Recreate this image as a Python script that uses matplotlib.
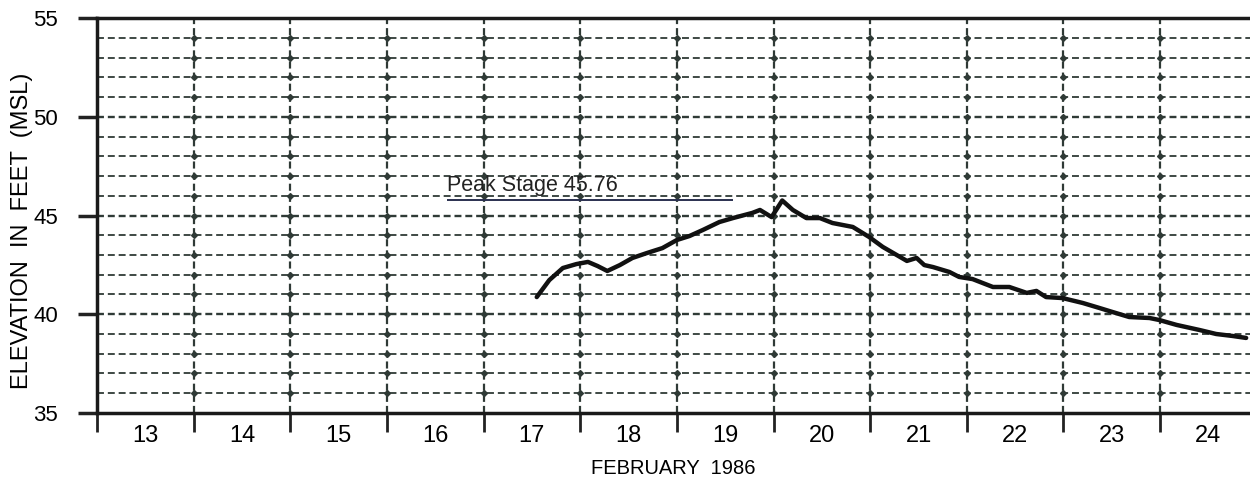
import numpy as np
import matplotlib.pyplot as plt

# stage hydrograph (day of Feb 1986, elevation ft MSL)
days = [17.55, 17.68, 17.82, 17.96, 18.08, 18.18, 18.28, 18.41, 18.54, 18.69,
        18.85, 19.00, 19.13, 19.27, 19.44, 19.58, 19.78, 19.86, 19.98, 20.09,
        20.20, 20.34, 20.48, 20.61, 20.82, 20.99, 21.13, 21.38, 21.48, 21.56,
        21.65, 21.82, 21.92, 22.06, 22.27, 22.44, 22.62, 22.72, 22.82, 22.99,
        23.20, 23.37, 23.51, 23.68, 23.89, 23.99, 24.17, 24.41, 24.58, 24.75,
        24.89]
elev = [40.87, 41.73, 42.34, 42.54, 42.65, 42.44, 42.19, 42.49, 42.85, 43.10,
        43.35, 43.76, 43.96, 44.27, 44.67, 44.87, 45.13, 45.28, 44.92, 45.76,
        45.28, 44.87, 44.87, 44.62, 44.42, 43.91, 43.41, 42.70, 42.85, 42.49,
        42.39, 42.14, 41.89, 41.78, 41.38, 41.38, 41.08, 41.18, 40.87, 40.82,
        40.57, 40.32, 40.11, 39.86, 39.81, 39.71, 39.46, 39.20, 39.00, 38.90,
        38.80]

day_labels = ["13", "14", "15", "16", "17", "18", "19", "20", "21", "22", "23", "24"]
day_edges = np.arange(13, 25)
y_major = [35, 40, 45, 50, 55]

peak_stage = 45.76
peak_span = (16.62, 19.58)

grid_col = "#2f3a36"
font = "Liberation Sans"

fig = plt.figure(figsize=(12.5, 4.79), dpi=100)
ax = fig.add_axes([0.0776, 0.1378, 0.9224, 0.8246])

# horizontal grid, one line per foot
for y in range(36, 55):
    lw = 1.7 if y % 5 == 0 else 1.3
    ax.axhline(y, color=grid_col, lw=lw, ls=(0, (5.0 / lw, 2.8 / lw)), zorder=1)
# vertical grid at day boundaries
for d in day_edges[1:]:
    ax.axvline(d, color=grid_col, lw=1.6, ls=(0, (3.2, 1.8)), zorder=1)
# dots where the grid lines cross
gx, gy = np.meshgrid(day_edges[1:], np.arange(36, 55))
ax.plot(gx.ravel(), gy.ravel(), "D", ms=3, color=grid_col, zorder=1)

ax.plot(days, elev, color="#111111", lw=3.2, solid_capstyle="round",
        solid_joinstyle="round", zorder=3)

ax.hlines(peak_stage, peak_span[0], peak_span[1], color="#2a3050", lw=1.4, zorder=2)
ax.text(peak_span[0], peak_stage + 0.48, "Peak Stage 45.76", fontsize=15.5,
        family=font, color="#222222", ha="left", va="baseline", zorder=4)

ax.set_xlim(13, 24.93)
ax.set_ylim(35, 55)

ax.set_xticks(day_edges)
ax.set_xticklabels([])
ax.set_xticks(day_edges + 0.5, minor=True)
ax.set_xticklabels(day_labels, minor=True, fontsize=17, family=font)
ax.tick_params(axis="x", which="major", direction="out", length=14, width=2, color="#222222")
ax.tick_params(axis="x", which="minor", length=0, pad=9)

ax.set_yticks(y_major)
ax.set_yticklabels([str(v) for v in y_major], fontsize=16, family=font)
ax.tick_params(axis="y", direction="out", length=14, width=2.5, color="#222222", pad=14)

for s in ["left", "bottom", "top"]:
    ax.spines[s].set_linewidth(2.5)
    ax.spines[s].set_color("#1a1a1a")
ax.spines["right"].set_visible(False)

ax.set_xlabel("FEBRUARY  1986", fontsize=14.5, family=font, labelpad=8)
ax.set_ylabel("ELEVATION  IN  FEET  (MSL)", fontsize=17, family=font)
ax.yaxis.set_label_coords(-0.0555, 0.46)

fig.savefig("out.png", dpi=100)
